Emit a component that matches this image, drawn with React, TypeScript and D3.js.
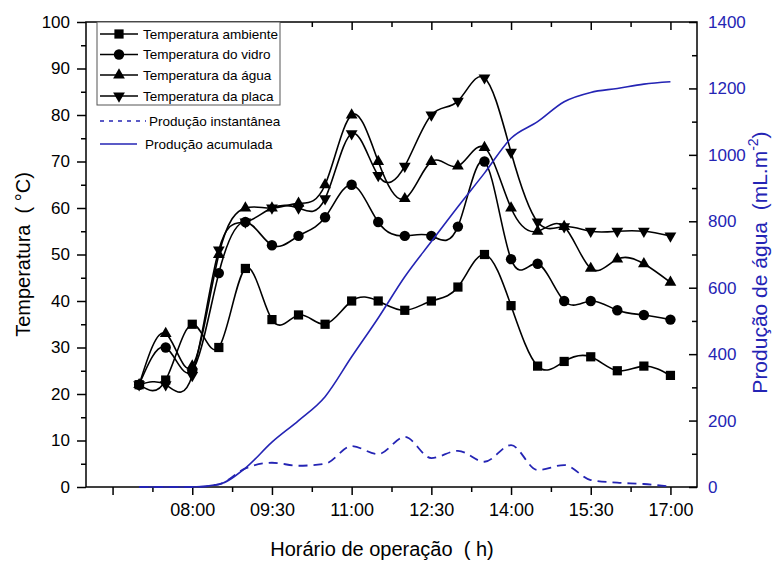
import React from "react";
import * as d3 from "d3";

// leituras a cada 30 min
const horarios = ["07:00", "07:30", "08:00", "08:30", "09:00", "09:30", "10:00", "10:30", "11:00", "11:30",
    "12:00", "12:30", "13:00", "13:30", "14:00", "14:30", "15:00", "15:30", "16:00", "16:30", "17:00"];
const tempAmbiente = [22, 23, 35, 30, 47, 36, 37, 35, 40, 40, 38, 40, 43, 50, 39, 26, 27, 28, 25, 26, 24];
const tempVidro = [22, 30, 25, 46, 57, 52, 54, 58, 65, 57, 54, 54, 56, 70, 49, 48, 40, 40, 38, 37, 36];
const tempAgua = [22, 33, 26, 50, 60, 60, 61, 65, 80, 70, 62, 70, 69, 73, 60, 55, 56, 47, 49, 48, 44];
const tempPlaca = [22, 22, 24, 51, 57, 60, 60, 62, 76, 67, 69, 80, 83, 88, 72, 57, 56, 55, 55, 55, 54];
const prodInstantanea = [0, 0, 0, 8, 56, 73, 64, 70, 123, 99, 151, 87, 109, 76, 126, 51, 66, 21, 13, 9, 1];
const prodAcumulada = [0, 0, 0, 8, 57, 135, 200, 272, 392, 509, 633, 739, 844, 945, 1050, 1100, 1160, 1188, 1200, 1213, 1220];

const xTicks = ["06:30", "08:00", "09:30", "11:00", "12:30", "14:00", "15:30", "17:00"];
const xTickLabels = ["", "08:00", "09:30", "11:00", "12:30", "14:00", "15:30", "17:00"];
const xMinorTicks = ["07:15", "08:45", "10:15", "11:45", "13:15", "14:45", "16:15"];
const yTicks = [0, 10, 20, 30, 40, 50, 60, 70, 80, 90, 100];
const y2Ticks = [0, 200, 400, 600, 800, 1000, 1200, 1400];

const BLUE = "#2424b4";
const FONT = "'Liberation Sans', Arial, sans-serif";

const App = () => {
    const svgRef = React.useRef<SVGSVGElement>(null);
    const width = 774;
    const height = 561;
    const left = 86, right = 697, top = 22, bottom = 487;

    React.useEffect(() => {
        const svg = d3.select(svgRef.current);
        svg.selectAll("*").remove();

        const parse = d3.timeParse("%H:%M");
        const t = (s: string) => parse(s) as Date;

        const x = d3.scaleTime().domain([t("06:00"), t("17:30")]).range([left, right]);
        const y = d3.scaleLinear().domain([0, 100]).range([bottom, top]);
        const y2 = d3.scaleLinear().domain([0, 1400]).range([bottom, top]);

        const g = svg.append("g").attr("font-family", FONT);

        // frame
        g.append("rect")
            .attr("x", left).attr("y", top)
            .attr("width", right - left).attr("height", bottom - top)
            .attr("fill", "none").attr("stroke", "#000").attr("stroke-width", 1.5);

        // bottom axis (outward)
        const xb = g.append("g").attr("transform", `translate(0,${bottom})`)
            .call(d3.axisBottom(x).tickValues(xTicks.map(t)).tickSize(8).tickPadding(8)
                .tickFormat((d, i) => xTickLabels[i]));
        xb.append("g").call(d3.axisBottom(x).tickValues(xMinorTicks.map(t)).tickSize(5).tickFormat(() => ""));
        // top mirror (inward)
        const xt = g.append("g").attr("transform", `translate(0,${top})`)
            .call(d3.axisBottom(x).tickValues(xTicks.map(t)).tickSize(8).tickFormat(() => ""));
        xt.append("g").call(d3.axisBottom(x).tickValues(xMinorTicks.map(t)).tickSize(5).tickFormat(() => ""));

        // left axis
        const yl = g.append("g").attr("transform", `translate(${left},0)`)
            .call(d3.axisLeft(y).tickValues(yTicks).tickSize(9).tickPadding(7));
        yl.append("g").call(d3.axisLeft(y).tickValues(d3.range(5, 100, 10)).tickSize(5).tickFormat(() => ""));

        // right axis (ticks inward)
        const yr = g.append("g").attr("transform", `translate(${right},0)`)
            .call(d3.axisLeft(y2).tickValues(y2Ticks).tickSize(8).tickFormat(() => ""));
        yr.append("g").call(d3.axisLeft(y2).tickValues(d3.range(100, 1400, 200)).tickSize(5).tickFormat(() => ""));

        g.selectAll(".domain").remove();
        g.selectAll(".tick line").attr("stroke", "#000").attr("stroke-width", 1.5);
        g.selectAll(".tick text").attr("fill", "#000").attr("font-size", 17).attr("font-family", FONT);
        xb.selectAll(".tick text").attr("font-size", 18);

        yr.selectAll(".lbl").data(y2Ticks).enter().append("text")
            .attr("class", "lbl")
            .attr("x", 11).attr("y", d => y2(d)).attr("dy", "0.35em")
            .attr("text-anchor", "start").attr("font-family", FONT)
            .attr("fill", BLUE).attr("font-size", 17).text(d => String(d));

        // temperature series
        const series: { vals: number[], sym: d3.SymbolType, rot: number, size: number }[] = [
            { vals: tempAmbiente, sym: d3.symbolSquare, rot: 0, size: 85 },
            { vals: tempVidro, sym: d3.symbolCircle, rot: 0, size: 85 },
            { vals: tempAgua, sym: d3.symbolTriangle, rot: 0, size: 60 },
            { vals: tempPlaca, sym: d3.symbolTriangle, rot: 180, size: 60 },
        ];
        const line = d3.line<number>()
            .x((d, i) => x(t(horarios[i])))
            .y(d => y(d))
            .curve(d3.curveNatural);

        series.forEach(s => {
            g.append("path").attr("d", line(s.vals))
                .attr("fill", "none").attr("stroke", "#000").attr("stroke-width", 1.6);
        });
        series.forEach(s => {
            g.append("g").selectAll("path").data(s.vals).enter().append("path")
                .attr("d", d3.symbol().type(s.sym).size(s.size)())
                .attr("transform", (d, i) => `translate(${x(t(horarios[i]))},${y(d)}) rotate(${s.rot})`)
                .attr("fill", "#000");
        });

        // water production
        const line2 = d3.line<number>()
            .x((d, i) => x(t(horarios[i])))
            .y(d => y2(d))
            .curve(d3.curveMonotoneX);
        g.append("path").attr("d", line2(prodInstantanea))
            .attr("fill", "none").attr("stroke", BLUE).attr("stroke-width", 1.8)
            .attr("stroke-dasharray", "9,6");
        g.append("path").attr("d", line2(prodAcumulada))
            .attr("fill", "none").attr("stroke", BLUE).attr("stroke-width", 1.6);

        // legend
        const leg = g.append("g").attr("font-size", 13.5);
        leg.append("rect").attr("x", 97).attr("y", top).attr("width", 183).attr("height", 83)
            .attr("fill", "#fff").attr("stroke", "#555").attr("stroke-width", 1);
        const names = ["Temperatura ambiente", "Temperatura do vidro", "Temperatura da água", "Temperatura da placa"];
        const rows = [34, 54.5, 75, 96];
        series.forEach((s, i) => {
            leg.append("line").attr("x1", 100).attr("x2", 138).attr("y1", rows[i]).attr("y2", rows[i])
                .attr("stroke", "#000").attr("stroke-width", 1.6);
            leg.append("path").attr("d", d3.symbol().type(s.sym).size(s.size)())
                .attr("transform", `translate(119,${rows[i]}) rotate(${s.rot})`).attr("fill", "#000");
            leg.append("text").attr("x", 143).attr("y", rows[i]).attr("dy", "0.35em").text(names[i]);
        });
        leg.append("line").attr("x1", 100).attr("x2", 146).attr("y1", 121).attr("y2", 121)
            .attr("stroke", BLUE).attr("stroke-width", 1.3).attr("stroke-dasharray", "4,5");
        leg.append("text").attr("x", 149).attr("y", 121).attr("dy", "0.35em").text("Produção instantânea");
        leg.append("line").attr("x1", 100).attr("x2", 137).attr("y1", 144).attr("y2", 144)
            .attr("stroke", BLUE).attr("stroke-width", 1.3);
        leg.append("text").attr("x", 145).attr("y", 144).attr("dy", "0.35em").text("Produção acumulada");

        // axis titles
        g.append("text").attr("x", 382).attr("y", 556).attr("text-anchor", "middle")
            .attr("font-size", 20).style("white-space", "pre").text("Horário de operação  ( h)");
        g.append("text").attr("transform", `translate(30,${(top + bottom) / 2}) rotate(-90)`)
            .attr("text-anchor", "middle").attr("font-size", 20).style("white-space", "pre")
            .text("Temperatura  ( °C)");
        const t2 = g.append("text").attr("transform", `translate(767,${(top + bottom) / 2 + 8}) rotate(-90)`)
            .attr("text-anchor", "middle").attr("font-size", 21).attr("fill", BLUE).style("white-space", "pre");
        t2.append("tspan").text("Produção de água  (mL.m");
        t2.append("tspan").attr("font-size", 14).attr("dy", -9).text("-2");
        t2.append("tspan").attr("dy", 9).text(")");
    }, []);

    return (
        <div>
            <style>{"body{margin:0}"}</style>
            <svg ref={svgRef} width={width} height={height} style={{ display: "block", background: "#fff" }} />
        </div>
    );
};

export default App;
